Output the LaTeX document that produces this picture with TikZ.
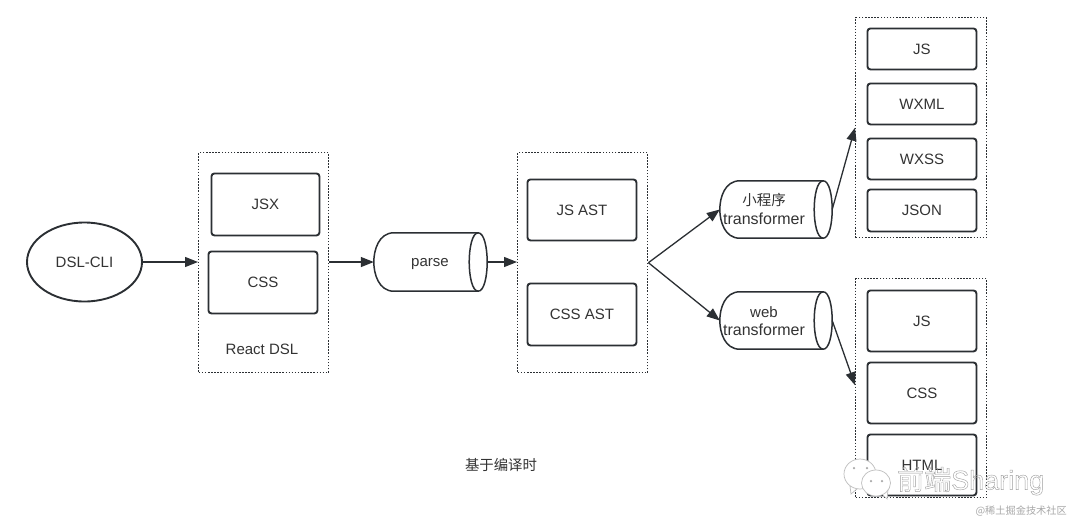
\documentclass[tikz,border=0pt]{standalone}
\usepackage{fontspec}
\setmainfont{Liberation Sans}
\newfontfamily\cjk{Noto Sans CJK SC}
\usetikzlibrary{arrows.meta,shapes.geometric}
\definecolor{ink}{HTML}{2B2F33}
\definecolor{txt}{HTML}{333333}
\definecolor{wm}{HTML}{A8A8A8}
\newcommand{\cyldraw}[1]{%
  \draw[cylline] ([xshift=20pt]#1.north west) .. controls ([xshift=5pt]#1.north west) and ([yshift=12pt]#1.west) .. (#1.west)
    .. controls ([yshift=-12pt]#1.west) and ([xshift=5pt]#1.south west) .. ([xshift=20pt]#1.south west)
    -- ([xshift=-9pt]#1.south east) .. controls ([xshift=-3pt]#1.south east) and ([yshift=-14pt]#1.east) .. (#1.east)
    .. controls ([yshift=14pt]#1.east) and ([xshift=-3pt]#1.north east) .. ([xshift=-9pt]#1.north east)
    -- cycle;
  \draw[cylline] ([xshift=-9pt]#1.north east) .. controls ([xshift=-15pt]#1.north east) and ([xshift=-18pt,yshift=14pt]#1.east) .. ([xshift=-18pt]#1.east)
    .. controls ([xshift=-18pt,yshift=-14pt]#1.east) and ([xshift=-15pt]#1.south east) .. ([xshift=-9pt]#1.south east);
}
\tikzset{
  x=1pt,y=-1pt,
  lbl/.style={font=\fontsize{15}{17}\selectfont,text=txt,align=center,inner sep=0pt},
  boxn/.style={lbl,draw=ink,line width=1.9pt,rounded corners=3pt,anchor=north west,inner sep=0pt},
  dotbox/.style={draw=ink,line width=1.4pt,dash pattern=on 1.5pt off 1.6pt,anchor=north west,inner sep=0pt},
  cylnode/.style={lbl,inner sep=0pt},
  cylline/.style={draw=ink,line width=1.5pt},
  conn/.style={draw=ink,line width=1.3pt,-{Triangle[length=13pt,width=10pt]}},
  plain/.style={lbl},
  wmline/.style={draw=wm!75,line width=0.7pt},
  wmeye/.style={fill=wm,draw=none,circle,minimum size=2.5pt,inner sep=0pt}
}
\begin{document}
\begin{tikzpicture}
\useasboundingbox[fill=white] (0,0) rectangle (1080,531);
% dotted groups
\node[dotbox,minimum width=130pt,minimum height=220pt] (react) at (198,152) {};
\node[dotbox,minimum width=130pt,minimum height=220pt] (ast) at (517,152) {};
\node[dotbox,minimum width=131pt,minimum height=220pt] (mini) at (855,17) {};
\node[dotbox,minimum width=131pt,minimum height=219pt] (web) at (855,278) {};
% React DSL
\node[boxn,minimum width=108pt,minimum height=62pt] (jsx) at (210.5,172.5) {JSX};
\node[boxn,minimum width=109pt,minimum height=62pt] (css) at (207.5,250.5) {CSS};
\node[plain] (reactl) at (262,349) {React DSL};
% CLI
\node[lbl,draw=ink,line width=1.9pt,ellipse,minimum width=115pt,minimum height=79pt] (cli) at (84.5,262) {DSL-CLI};
% parse
\node[cylnode,minimum width=113pt,minimum height=58pt] (parse) at (430.5,262) {\hspace*{-1pt}\raisebox{-4pt}[0pt][0pt]{parse}};
\cyldraw{parse}
% AST
\node[boxn,minimum width=109pt,minimum height=61pt] (jsast) at (526.5,178.5) {JS AST};
\node[boxn,minimum width=109pt,minimum height=62pt] (cssast) at (526.5,282.5) {CSS AST};
% transformers
\node[cylnode,minimum width=112pt,minimum height=57pt] (tmini) at (776,209.5) {\hspace*{-24pt}\raisebox{-6pt}[0pt][0pt]{\begin{tabular}{@{}c@{}}{\fontsize{14.5}{17}\selectfont\cjk 小程序}\\[2pt]{\fontsize{16}{17}\selectfont transformer}\end{tabular}}};
\cyldraw{tmini}
\node[cylnode,minimum width=112pt,minimum height=57pt] (tweb) at (776,320.5) {\hspace*{-24pt}\raisebox{-6pt}[0pt][0pt]{\begin{tabular}{@{}c@{}}web\\[1pt]{\fontsize{16}{17}\selectfont transformer}\end{tabular}}};
\cyldraw{tweb}
% mini boxes
\node[boxn,minimum width=109pt,minimum height=41pt] (m1) at (866.5,27.5) {JS};
\node[boxn,minimum width=109pt,minimum height=41pt] (m2) at (866.5,82.5) {WXML};
\node[boxn,minimum width=109pt,minimum height=41pt] (m3) at (866.5,137.5) {WXSS};
\node[boxn,minimum width=109pt,minimum height=42pt] (m4) at (866.5,188.5) {JSON};
% web boxes
\node[boxn,minimum width=109pt,minimum height=61pt] (w1) at (866.5,289.5) {JS};
\node[boxn,minimum width=109pt,minimum height=61pt] (w2) at (866.5,361.5) {CSS};
\node[boxn,minimum width=109pt,minimum height=61pt] (w3) at (866.5,433.5) {HTML};
% title
\node[plain,font=\fontsize{14.4}{16}\selectfont\cjk] (title) at (501,465) {基于编译时};
% connectors
\draw[conn] (cli.east) -- (react.west |- cli.east);
\draw[conn] (react.east |- parse.west) -- (parse.west);
\draw[conn] (parse.east) -- (ast.west |- parse.east);
\draw[conn] (ast.east) -- (tmini.west);
\draw[conn] (ast.east) -- (tweb.west);
\draw[conn] (tmini.east) -- (mini.west);
\draw[conn] (tweb.east) -- ([yshift=3pt]web.west);
% watermark
\draw[wmline,fill=white] (850,486) -- (851,494) -- (858,488) -- cycle;
\node[wmline,fill=white,ellipse,minimum width=32pt,minimum height=30pt,inner sep=0pt] (wa) at (860,474) {};
\draw[wmline,fill=white] (882,494) -- (887,499) -- (888,490) -- cycle;
\node[wmline,fill=white,ellipse,minimum width=29pt,minimum height=26pt,inner sep=0pt] (wb) at (876,483) {};
\node[wmeye] (e1) at (854,468) {};
\node[wmeye] (e2) at (867,468) {};
\node[wmeye] (e3) at (871,481) {};
\node[wmeye] (e4) at (882,481) {};
\node[text=wm,inner sep=0pt,anchor=west] (wtext) at (897,481) {\special{pdf:code q 1 Tr 0.4 w 0.62 0.62 0.62 RG}\fontsize{27}{30}\selectfont{\cjk 前端}Sharing\special{pdf:code Q}};
\node[text=wm,inner sep=0pt,anchor=east,font=\fontsize{10.2}{12}\selectfont\cjk] (wsite) at (1067,511) {@稀土掘金技术社区};
\end{tikzpicture}
\end{document}
